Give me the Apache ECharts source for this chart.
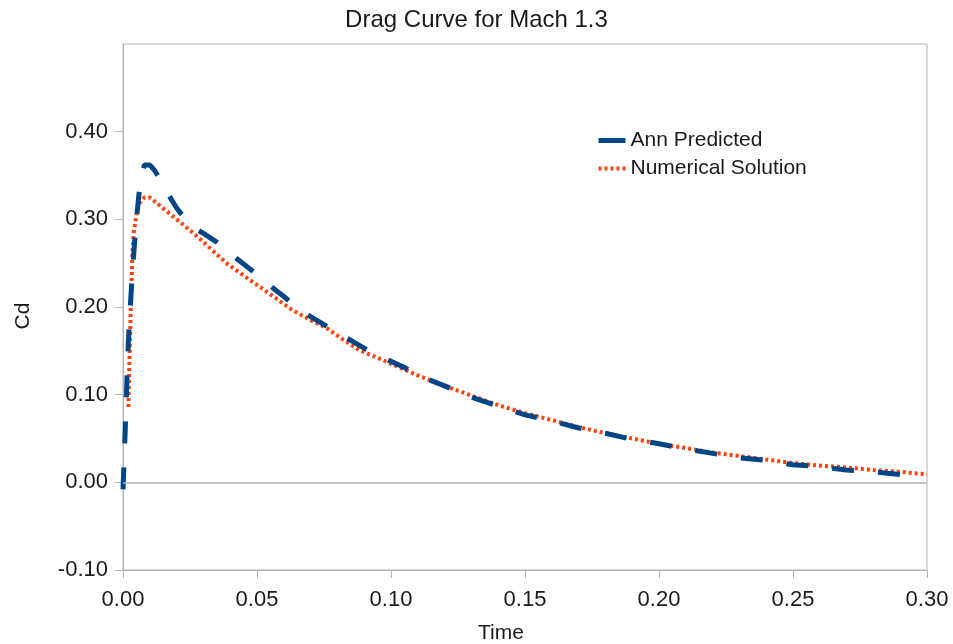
<!DOCTYPE html>
<html>
<head>
<meta charset="utf-8">
<script src="https://cdn.jsdelivr.net/npm/echarts@6/dist/echarts.min.js"></script>
<style>
  html, body { margin: 0; padding: 0; background: #fff; }
  #chart { width: 953px; height: 644px; }
</style>
</head>
<body>
<div id="chart"></div>
<script>
// Ann Predicted curve
const annTime = [0, 0.0005, 0.001, 0.0015, 0.002, 0.003, 0.004, 0.005, 0.006, 0.007, 0.008, 0.010,
  0.012, 0.014, 0.017, 0.020, 0.025, 0.030, 0.035, 0.040, 0.045, 0.050, 0.055, 0.060, 0.065,
  0.070, 0.075, 0.080, 0.085, 0.090, 0.095, 0.100, 0.105, 0.110, 0.120, 0.130, 0.140, 0.150,
  0.160, 0.170, 0.180, 0.190, 0.200, 0.210, 0.220, 0.230, 0.240, 0.250, 0.260, 0.270, 0.280, 0.290]
const annCd = [-0.008, 0.03, 0.075, 0.12, 0.16, 0.215, 0.26, 0.30, 0.33, 0.352, 0.362, 0.362,
  0.355, 0.344, 0.328, 0.313, 0.293, 0.284, 0.274, 0.261, 0.249, 0.237, 0.224, 0.212, 0.199,
  0.189, 0.180, 0.170, 0.162, 0.153, 0.145, 0.138, 0.131, 0.122, 0.110, 0.097, 0.087, 0.077,
  0.070, 0.062, 0.056, 0.049, 0.044, 0.038, 0.033, 0.028, 0.025, 0.020, 0.018, 0.014, 0.012, 0.009]

// Numerical Solution curve
const numTime = [0.002, 0.0025, 0.003, 0.0035, 0.004, 0.005, 0.006, 0.008, 0.010, 0.012, 0.014,
  0.020, 0.026, 0.030, 0.039, 0.045, 0.051, 0.057, 0.063, 0.070, 0.076, 0.082, 0.088, 0.095,
  0.101, 0.110, 0.120, 0.130, 0.140, 0.150, 0.160, 0.170, 0.180, 0.190, 0.200, 0.210, 0.220,
  0.230, 0.240, 0.250, 0.260, 0.270, 0.280, 0.290, 0.300]
const numCd = [0.086, 0.15, 0.21, 0.26, 0.285, 0.305, 0.318, 0.325, 0.325, 0.320, 0.315,
  0.300, 0.285, 0.274, 0.249, 0.236, 0.223, 0.210, 0.197, 0.185, 0.176, 0.163, 0.151, 0.142,
  0.134, 0.122, 0.110, 0.099, 0.088, 0.079, 0.071, 0.063, 0.056, 0.050, 0.044, 0.039, 0.034,
  0.030, 0.026, 0.022, 0.019, 0.017, 0.014, 0.012, 0.009]

const yTicks = [-0.1, 0, 0.1, 0.2, 0.3, 0.4]

const font = 'Liberation Sans'
const zip = (xs, ys) => xs.map((x, i) => [x, ys[i]])

const chart = echarts.init(document.getElementById('chart'), null, { renderer: 'canvas' })
chart.setOption({
  animation: false,
  backgroundColor: '#ffffff',
  title: {
    text: 'Drag Curve for Mach 1.3',
    left: 'center',
    top: 3,
    textStyle: { fontFamily: font, fontSize: 24, fontWeight: 'normal', color: '#1a1a1a' }
  },
  grid: {
    left: 123,
    right: 26,
    top: 44,
    bottom: 74,
    outerBoundsMode: 'none',
    show: true,
    borderColor: '#b3b3b3',
    borderWidth: 1
  },
  legend: {
    orient: 'vertical',
    left: 596,
    top: 130,
    padding: 0,
    itemWidth: 27,
    itemHeight: 14,
    itemGap: 7,
    textStyle: { fontFamily: font, fontSize: 21, color: '#1a1a1a' },
    data: [
      {
        name: 'Ann Predicted',
        itemStyle: { opacity: 0 },
        lineStyle: { type: 'solid', width: 5, color: '#004586' }
      },
      {
        name: 'Numerical Solution',
        itemStyle: { opacity: 0 },
        lineStyle: { type: [3, 3], width: 4, color: '#ff420e' }
      }
    ]
  },
  xAxis: {
    type: 'value',
    min: 0,
    max: 0.3,
    interval: 0.05,
    name: 'Time',
    nameLocation: 'middle',
    nameGap: 53,
    nameTextStyle: { fontFamily: font, fontSize: 21, color: '#1a1a1a', padding: [0, 48, 0, 0] },
    axisLine: { show: true, onZero: false, lineStyle: { color: '#b3b3b3', width: 1 } },
    axisTick: { show: true, inside: false, length: 8, lineStyle: { color: '#b3b3b3' } },
    axisLabel: {
      margin: 19,
      fontFamily: font,
      fontSize: 22,
      color: '#1a1a1a',
      formatter: v => v.toFixed(2)
    },
    splitLine: { show: false }
  },
  yAxis: {
    type: 'value',
    min: -0.1,
    max: 0.5,
    interval: 0.1,
    name: 'Cd',
    nameLocation: 'middle',
    nameGap: 89,
    nameTextStyle: { fontFamily: font, fontSize: 21, color: '#1a1a1a', padding: [0, 18, 0, 0] },
    axisLine: { show: true, onZero: false, lineStyle: { color: '#b3b3b3', width: 1 } },
    axisTick: { show: true, length: 8, customValues: yTicks, lineStyle: { color: '#b3b3b3' } },
    axisLabel: {
      margin: 15,
      fontFamily: font,
      fontSize: 22,
      color: '#1a1a1a',
      customValues: yTicks,
      formatter: v => v.toFixed(2)
    },
    splitLine: { show: false }
  },
  series: [
    {
      name: 'Numerical Solution',
      type: 'line',
      symbol: 'none',
      data: zip(numTime, numCd),
      lineStyle: { color: '#ff420e', width: 4, type: [3, 3] },
      itemStyle: { color: '#ff420e' },
      z: 2
    },
    {
      name: 'Ann Predicted',
      type: 'line',
      symbol: 'none',
      data: zip(annTime, annCd),
      lineStyle: { color: '#004586', width: 5, type: [22, 24] },
      itemStyle: { color: '#004586' },
      z: 3,
      markLine: {
        silent: true,
        symbol: 'none',
        label: { show: false },
        lineStyle: { color: '#b3b3b3', width: 1.5, type: 'solid' },
        data: [{ yAxis: 0 }]
      }
    }
  ]
})
</script>
</body>
</html>
